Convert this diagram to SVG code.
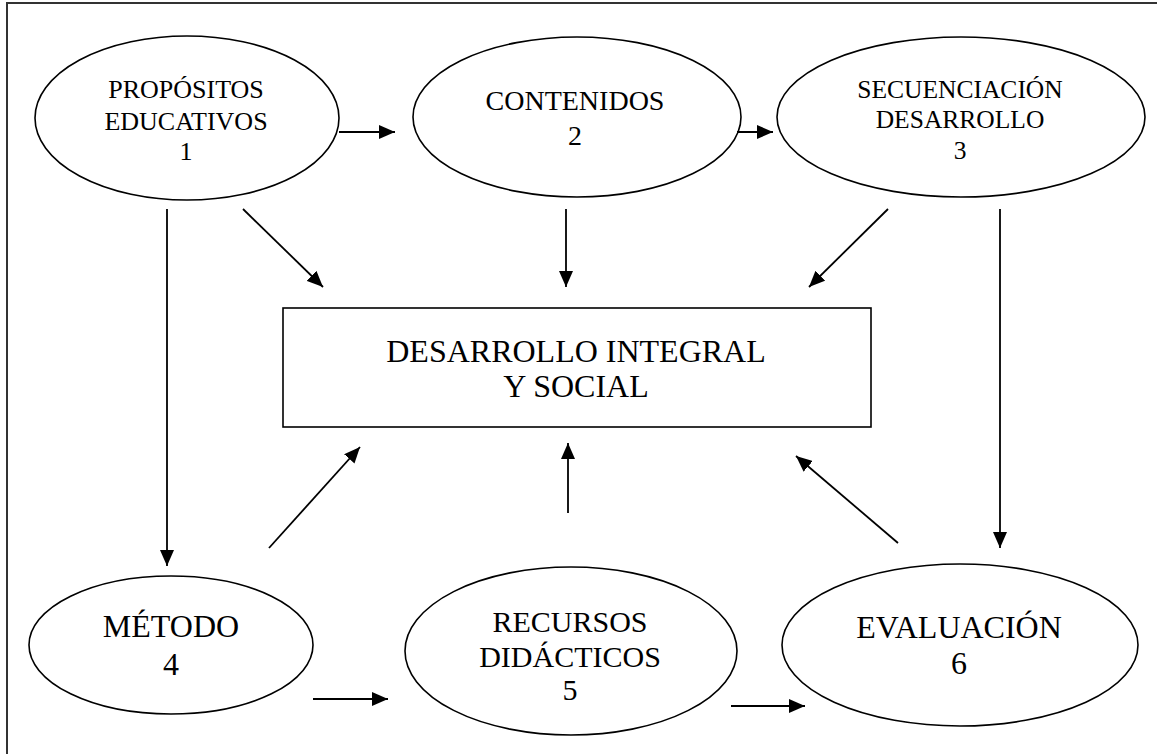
<svg xmlns="http://www.w3.org/2000/svg" width="1157" height="754" viewBox="0 0 1157 754">
<defs>
<marker id="ah" viewBox="0 0 16 14" refX="16" refY="7" markerWidth="16" markerHeight="14" markerUnits="userSpaceOnUse" orient="auto">
<path d="M0,0 L16,7 L0,14 Z" fill="#000"/>
</marker>
</defs>
<style>
.shape{fill:#fff;stroke:#000;stroke-width:1.6}
.frame{fill:none;stroke:#333;stroke-width:2}
.t{fill:#000;text-anchor:middle}
.c{stroke:#000;stroke-width:1.8;fill:none;marker-end:url(#ah)}
</style>
<rect width="1157" height="754" fill="#fff"/>
<path class="frame" d="M7,754 L7,3 L1157,3"/>
<g font-family="Liberation Serif, DejaVu Serif, serif">
<g id="n1">
<ellipse class="shape" cx="187" cy="118" rx="152" ry="82"/>
<text class="t" font-size="26"><tspan x="186" y="98">PROPÓSITOS</tspan><tspan x="186" y="130">EDUCATIVOS</tspan><tspan x="186" y="160">1</tspan></text>
</g>
<g id="n2">
<ellipse class="shape" cx="577" cy="117" rx="164" ry="80"/>
<text class="t" font-size="28"><tspan x="575" y="110">CONTENIDOS</tspan><tspan x="575" y="145">2</tspan></text>
</g>
<g id="n3">
<ellipse class="shape" cx="961" cy="117" rx="184" ry="80"/>
<text class="t" font-size="25.5"><tspan x="960" y="98">SECUENCIACIÓN</tspan><tspan x="960" y="128">DESARROLLO</tspan><tspan x="960" y="159">3</tspan></text>
</g>
<g id="center">
<rect class="shape" x="283" y="308" width="588" height="119"/>
<text class="t" font-size="32"><tspan x="576" y="362">DESARROLLO INTEGRAL</tspan><tspan x="576" y="397">Y SOCIAL</tspan></text>
</g>
<g id="n4">
<ellipse class="shape" cx="171" cy="645" rx="142" ry="69"/>
<text class="t" font-size="32"><tspan x="171" y="637">MÉTODO</tspan><tspan x="171" y="675">4</tspan></text>
</g>
<g id="n5">
<ellipse class="shape" cx="571" cy="651" rx="166" ry="84"/>
<text class="t" font-size="30"><tspan x="570" y="632">RECURSOS</tspan><tspan x="570" y="667">DIDÁCTICOS</tspan><tspan x="570" y="700">5</tspan></text>
</g>
<g id="n6">
<ellipse class="shape" cx="960" cy="645" rx="178" ry="81"/>
<text class="t" font-size="32"><tspan x="959" y="638">EVALUACIÓN</tspan><tspan x="959" y="674">6</tspan></text>
</g>
</g>
<g id="connectors">
<line class="c" x1="339" y1="132" x2="395" y2="132"/>
<line class="c" x1="737" y1="132" x2="773" y2="132"/>
<line class="c" x1="167" y1="209" x2="167" y2="566"/>
<line class="c" x1="243" y1="209" x2="323" y2="287"/>
<line class="c" x1="566" y1="209" x2="566" y2="287"/>
<line class="c" x1="888" y1="209" x2="809" y2="287"/>
<line class="c" x1="1000" y1="209" x2="1000" y2="548"/>
<line class="c" x1="269" y1="548" x2="360" y2="447"/>
<line class="c" x1="568" y1="513" x2="568" y2="443"/>
<line class="c" x1="898" y1="543" x2="796" y2="456"/>
<line class="c" x1="313" y1="699" x2="388" y2="699"/>
<line class="c" x1="731" y1="706" x2="805" y2="706"/>
</g>
</svg>
